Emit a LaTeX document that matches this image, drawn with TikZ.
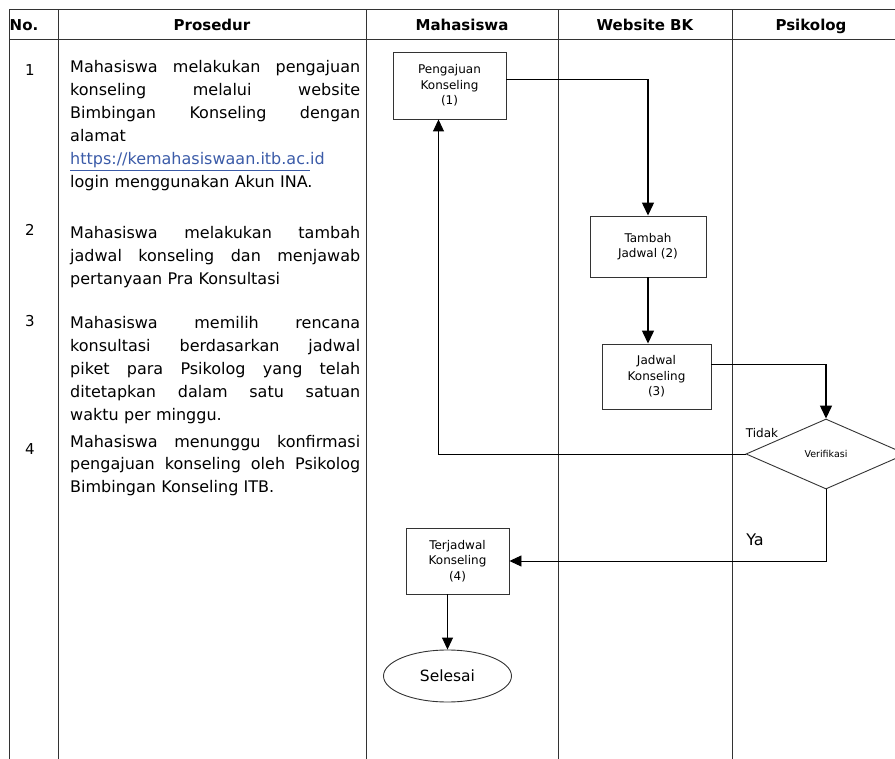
\documentclass[tikz,border=0pt]{standalone}
\usepackage{fontspec}
\setmainfont{DejaVu Sans}
\usetikzlibrary{shapes.geometric,arrows.meta,positioning}
\definecolor{tblline}{HTML}{333333}
\definecolor{urlblue}{HTML}{3B5BA8}
\tikzstyle{line} = [draw, line width=1.3pt, -{Triangle[width=12pt,length=13pt]}]
\tikzstyle{thinline} = [draw, line width=0.9pt, -{Triangle[width=11pt,length=12pt]}]
\tikzstyle{grid} = [draw=tblline, line width=1pt]
\tikzstyle{procbox} = [rectangle, draw=tblline, line width=0.9pt, align=center, minimum height=65pt, inner sep=2pt, font=\fontsize{12}{15.5}\selectfont]
\tikzstyle{hdr} = [anchor=base, inner sep=0pt, font=\fontsize{15}{18}\selectfont\bfseries]
\tikzstyle{nomor} = [anchor=base, inner sep=0pt, font=\fontsize{15}{18}\selectfont]
\tikzstyle{prosedur} = [anchor=base west, inner sep=0pt, text width=290pt, align=left, font=\fontsize{16}{23}\selectfont]
% baris rata kiri-kanan
\newcommand{\jline}[1]{\leavevmode\hbox to 290pt{#1}}

\begin{document}
\begin{tikzpicture}[x=1pt, y=-1pt]
		\clip (0,0) rectangle (895,759);
		% tabel
		\draw[grid] (9,10) -- (900,10);
		\draw[grid] (9,40) -- (900,40);
		\foreach \xk in {9,58,366,558,732}
			\draw[grid] (\xk,10) -- (\xk,760);
		
		\node[hdr] (hno) at (24,31) {No.};
		\node[hdr] (hprosedur) at (212,31) {Prosedur};
		\node[hdr] (hmhs) at (462,31) {Mahasiswa};
		\node[hdr] (hweb) at (645,31) {Website BK};
		\node[hdr] (hpsi) at (811,31) {Psikolog};
		
		% langkah
		\node[nomor] (no1) at (30,76) {1};
		\node[prosedur] (p1) at (70,73) {\jline{Mahasiswa\hfill melakukan\hfill pengajuan}\\
			\jline{konseling\hfill melalui\hfill website}\\
			\jline{Bimbingan\hfill Konseling\hfill dengan}\\
			alamat\\
			\textcolor{urlblue}{\underline{https://kemahasiswaan.itb.ac.}id}\\
			login menggunakan Akun INA.};
		
		\node[nomor] (no2) at (30,236) {2};
		\node[prosedur] (p2) at (70,239) {\jline{Mahasiswa\hfill melakukan\hfill tambah}\\
			\jline{jadwal\hfill konseling\hfill dan\hfill menjawab}\\
			pertanyaan Pra Konsultasi};
		
		\node[nomor] (no3) at (30,327) {3};
		\node[prosedur] (p3) at (70,329) {\jline{Mahasiswa\hfill memilih\hfill rencana}\\
			\jline{konsultasi\hfill berdasarkan\hfill jadwal}\\
			\jline{piket\hfill para\hfill Psikolog\hfill yang\hfill telah}\\
			\jline{ditetapkan\hfill dalam\hfill satu\hfill satuan}\\
			waktu per minggu.};
		
		\node[nomor] (no4) at (30,455) {4};
		\node[prosedur] (p4) at (70,447) {\jline{Mahasiswa\hfill menunggu\hfill konfirmasi}\\
			\jline{pengajuan\hfill konseling\hfill oleh\hfill Psikolog}\\
			Bimbingan Konseling ITB.};
		
		% alur
		\node[procbox, minimum width=113pt, minimum height=67pt] (pengajuan) at (449.5,85.5) {Pengajuan\\Konseling\\(1)};
		\node[procbox, minimum width=116pt, minimum height=61pt] (tambah) at (648,246.5) {Tambah\\Jadwal (2)};
		\node[procbox, minimum width=109pt] (jadwal) at (656.5,376.5) {Jadwal\\Konseling\\(3)};
		\node[diamond, draw=tblline, line width=0.9pt, aspect=2.3, minimum width=160pt, minimum height=70pt, inner sep=0pt, font=\fontsize{9.5}{11}\selectfont] (verifikasi) at (826,454) {Verifikasi};
		\node[procbox, minimum width=103pt, minimum height=66pt] (terjadwal) at (457.5,561) {Terjadwal\\Konseling\\(4)};
		\node[ellipse, draw=tblline, line width=0.9pt, minimum width=128pt, minimum height=52pt, font=\fontsize{15.5}{18}\selectfont, below of=terjadwal, node distance=115pt, xshift=-10pt] (selesai) {Selesai};
		
		\node[font=\fontsize{12}{14}\selectfont] (tidak) at (762,433) {Tidak};
		\node[font=\fontsize{16}{18}\selectfont] (ya) at (755,540) {Ya};
		
		\path [line] (pengajuan.6) -| (tambah.north);
		\path [line] (tambah.south) -- (tambah.south |- jadwal.north);
		\path [line] (jadwal.12) -| (verifikasi.north);
		\path [thinline] (verifikasi.west) -| ([xshift=-11pt]pengajuan.south);
		\path [thinline] (verifikasi.south) |- (terjadwal.east);
		\path [thinline] (terjadwal.south -| selesai.north) -- (selesai.north);
\end{tikzpicture}
\end{document}
